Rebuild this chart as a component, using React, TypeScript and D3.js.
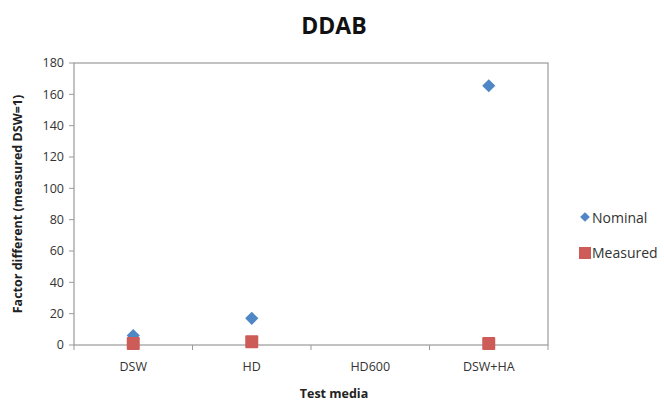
import React from "react";
import * as d3 from "d3";

const categories = ["DSW", "HD", "HD600", "DSW+HA"];
const nominal: (number | null)[] = [6, 17, null, 165.5];
const measured: (number | null)[] = [1, 2, null, 1];
const yTicks = [0, 20, 40, 60, 80, 100, 120, 140, 160, 180];
const seriesNames = ["Nominal", "Measured"];
const seriesColors = ["#4F86C6", "#CD5B57"];

const W = 664;
const H = 402;
const M = { left: 74, right: 116, top: 63, bottom: 57 };
const FONT = "'Open Sans', 'Liberation Sans', sans-serif";

export default function App() {
  const x = d3
    .scaleBand<string>()
    .domain(categories)
    .range([M.left, W - M.right]);
  const y = d3.scaleLinear().domain([0, 180]).range([H - M.bottom, M.top]);
  const diamond = d3.symbol().type(d3.symbolDiamond2).size(110)()!;
  const x0 = M.left;
  const x1 = W - M.right;
  const y0 = H - M.bottom;
  const y1 = M.top;

  return (
    <svg
      width={W}
      height={H}
      style={{ position: "absolute", left: 0, top: 0, background: "#fff" }}
      fontFamily={FONT}
    >
      <text x={334} y={34} textAnchor="middle" fontSize={23} fontWeight="bold" fill="#111">
        DDAB
      </text>
      {/* plot frame */}
      <rect x={x0} y={y1} width={x1 - x0} height={y0 - y1} fill="none" stroke="#9a9a9a" strokeWidth={1.2} />
      {/* y ticks */}
      {yTicks.map((t) => (
        <g key={t}>
          <line x1={x0 - 5} x2={x0} y1={y(t)} y2={y(t)} stroke="#9a9a9a" />
          <text x={x0 - 10} y={y(t)} dy="0.35em" textAnchor="end" fontSize={12.5} fill="#333">
            {t}
          </text>
        </g>
      ))}
      {/* x ticks */}
      {categories.map((c, i) => (
        <g key={c}>
          <line x1={x(c)! + x.bandwidth()} x2={x(c)! + x.bandwidth()} y1={y0} y2={y0 + 5} stroke="#9a9a9a" />
          {i === 0 && <line x1={x0} x2={x0} y1={y0} y2={y0 + 5} stroke="#9a9a9a" />}
          <text x={x(c)! + x.bandwidth() / 2} y={y0 + 26} textAnchor="middle" fontSize={12.5} fill="#333">
            {c}
          </text>
        </g>
      ))}
      <text x={334} y={398} textAnchor="middle" fontSize={12.5} fontWeight="bold" fill="#222">
        Test media
      </text>
      <text
        transform={`translate(22,${(y0 + y1) / 2}) rotate(-90)`}
        textAnchor="middle"
        fontSize={12.5}
        fontWeight="bold"
        fill="#222"
      >
        Factor different (measured DSW=1)
      </text>
      {/* nominal */}
      {nominal.map((v, i) =>
        v == null ? null : (
          <path
            key={"n" + i}
            d={diamond}
            transform={`translate(${x(categories[i])! + x.bandwidth() / 2},${y(v)})`}
            fill={seriesColors[0]}
          />
        )
      )}
      {/* measured */}
      {measured.map((v, i) =>
        v == null ? null : (
          <rect
            key={"m" + i}
            x={x(categories[i])! + x.bandwidth() / 2 - 6.5}
            y={y(v) - 6.5}
            width={13}
            height={13}
            rx={1}
            fill={seriesColors[1]}
          />
        )
      )}
      {/* legend */}
      <path d={d3.symbol().type(d3.symbolDiamond2).size(60)()!} transform="translate(585,217)" fill={seriesColors[0]} />
      <text x={592} y={218} dy="0.35em" fontSize={14} fill="#333">
        {seriesNames[0]}
      </text>
      <rect x={579} y={247} width={12} height={12} fill={seriesColors[1]} />
      <text x={592} y={253} dy="0.35em" fontSize={14} fill="#333">
        {seriesNames[1]}
      </text>
    </svg>
  );
}
